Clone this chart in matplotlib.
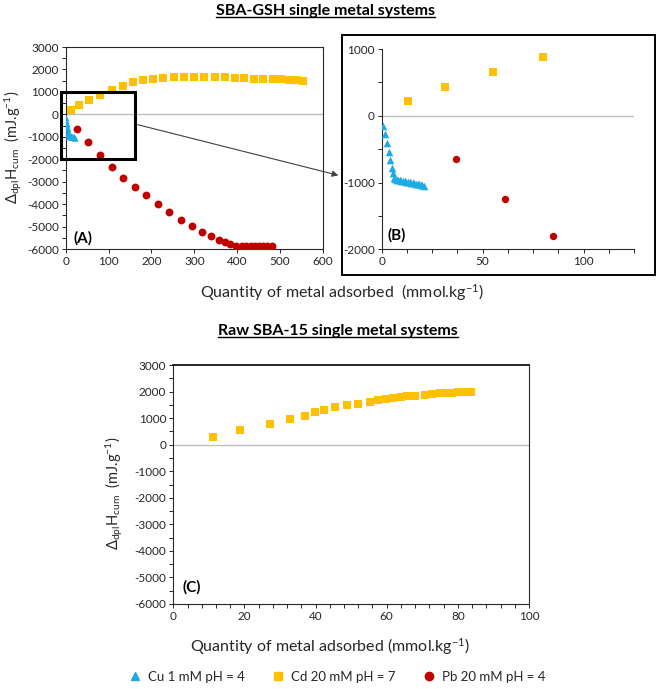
import matplotlib
matplotlib.use("Agg")
import matplotlib.pyplot as plt
from matplotlib.patches import Rectangle, FancyArrowPatch
from matplotlib.lines import Line2D
from matplotlib.ticker import MultipleLocator

# -----------------------------
# data
# -----------------------------
# SBA-GSH, Cu 1 mM pH = 4
cu_x = [0.5, 1.5, 2.5, 3.5, 4.3, 5.1, 5.8, 6.2, 6.8, 7.5, 8.2, 9.0, 9.8, 10.6, 11.4,
        12.2, 13.0, 13.8, 14.6, 15.4, 16.2, 17.0, 17.8, 18.6, 19.4, 20.2, 21.0]
cu_y = [-150, -279, -414, -549, -664, -780, -864, -930, -945, -955, -962, -968, -973,
        -978, -983, -988, -992, -997, -1001, -1006, -1010, -1015, -1020, -1026, -1032,
        -1040, -1050]

# SBA-GSH, Cd 20 mM pH = 7
cd_x = [12, 31, 55, 80, 107, 133, 158, 181, 203, 227, 252, 275, 299, 323, 347, 371,
        394, 416, 439, 461, 483, 503, 520, 539, 553]
cd_y = [210, 434, 658, 882, 1075, 1254, 1420, 1509, 1585, 1630, 1643, 1675, 1657, 1643,
        1643, 1643, 1612, 1612, 1585, 1585, 1554, 1554, 1522, 1522, 1496]

# SBA-GSH, Pb 20 mM pH = 4
pb_x = [27, 53, 80, 107, 134, 161, 188, 215, 242, 268, 295, 318, 338, 357, 372, 384,
        398, 410, 421, 431, 441, 450, 461, 470, 480]
pb_y = [-672, -1254, -1818, -2342, -2821, -3224, -3609, -4012, -4357, -4716, -4984,
        -5222, -5419, -5580, -5687, -5777, -5849, -5855, -5855, -5855, -5855, -5855,
        -5855, -5855, -5855]

# inset (B) as drawn
cd_x_inset = [13, 31.5, 55, 80]
cd_y_inset = [220, 435, 655, 880]
pb_x_inset = [37, 61, 85]
pb_y_inset = [-655, -1250, -1805]

# raw SBA-15, Cd 20 mM pH = 7
raw_cd_x = [11.2, 18.8, 27.3, 32.9, 37.0, 39.9, 42.5, 45.6, 48.8, 52.0, 55.3, 57.5,
            59.9, 61.7, 64.0, 65.6, 68.0, 70.7, 72.8, 75.1, 76.7, 78.3, 80.0, 81.4,
            82.8, 83.6]
raw_cd_y = [302, 567, 769, 958, 1084, 1223, 1311, 1412, 1475, 1538, 1613, 1664, 1714,
            1765, 1790, 1815, 1828, 1866, 1891, 1929, 1941, 1941, 1966, 1979, 1979, 1990]

CU = "#1EAAE2"
CD = "#FFC000"
PB = "#C00000"
W, H = 661, 689

plt.rcParams.update({
    "font.family": ["Lato", "DejaVu Sans"],
    "mathtext.default": "regular",
    "axes.unicode_minus": False,
    "font.size": 8.5,
})

fig = plt.figure(figsize=(W / 100, H / 100), dpi=100)


def box(l, t, r, b):
    # pixel box -> figure fraction rect
    return [l / W, 1 - b / H, (r - l) / W, (b - t) / H]


def style(ax, spines=True):
    for s in ["left", "bottom", "top", "right"]:
        ax.spines[s].set_color("#262626")
        ax.spines[s].set_linewidth(0.8)
    if not spines:
        ax.spines["top"].set_visible(False)
        ax.spines["right"].set_visible(False)
    ax.tick_params(which="both", direction="out", length=3, width=0.7,
                   color="#262626", labelsize=8.5, labelcolor="#262626", pad=2)
    ax.axhline(0, color="#BFBFBF", lw=1.0, zorder=1)


# ========== (A) SBA-GSH ==========
axA = fig.add_axes(box(65.7, 47, 323, 249))
style(axA)
axA.set_xlim(0, 600)
axA.set_ylim(-6000, 3000)
axA.xaxis.set_major_locator(MultipleLocator(100))
axA.yaxis.set_major_locator(MultipleLocator(1000))
axA.yaxis.set_minor_locator(MultipleLocator(500))
axA.scatter(cd_x, cd_y, marker="s", s=28, color=CD, lw=0, zorder=3)
axA.scatter(pb_x, pb_y, marker="o", s=32, color=PB, lw=0, zorder=3)
axA.scatter(cu_x, cu_y, marker="^", s=20, color=CU, lw=0, zorder=3)
axA.add_patch(Rectangle((-11, -2000), 172, 3000, fill=False, ec="black", lw=2.2,
                        clip_on=False, zorder=4))
axA.text(0.068, 0.055, "(A)", transform=axA.transAxes, fontsize=11,
         fontweight="bold", va="center", ha="center")

# ========== (B) zoom ==========
fig.add_artist(Rectangle((341.7 / W, 1 - 275 / H), (655 - 341.7) / W, (275 - 35) / H,
                         transform=fig.transFigure, fill=False, ec="black", lw=1.4))
axB = fig.add_axes(box(381.7, 49, 634, 249.3))
style(axB, spines=False)
axB.set_xlim(0, 125)
axB.set_ylim(-2000, 1000)
axB.xaxis.set_major_locator(MultipleLocator(50))
axB.xaxis.set_minor_locator(MultipleLocator(12.5))
axB.yaxis.set_major_locator(MultipleLocator(1000))
axB.yaxis.set_minor_locator(MultipleLocator(500))
axB.scatter(cd_x_inset, cd_y_inset, marker="s", s=28, color=CD, lw=0, zorder=3)
axB.scatter(pb_x_inset, pb_y_inset, marker="o", s=28, color=PB, lw=0, zorder=3)
axB.scatter(cu_x, cu_y, marker="^", s=30, color=CU, lw=0, zorder=3)
axB.text(0.06, 0.07, "(B)", transform=axB.transAxes, fontsize=11,
         fontweight="bold", va="center", ha="center")

fig.add_artist(FancyArrowPatch((135 / W, 1 - 124 / H), (341 / W, 1 - 176 / H),
                               transform=fig.transFigure, arrowstyle="-|>",
                               mutation_scale=9, color="#404040", lw=0.8))

# ========== (C) raw SBA-15 ==========
axC = fig.add_axes(box(173.3, 365, 529, 604))
style(axC)
axC.spines["top"].set_linewidth(1.4)
axC.set_xlim(0, 100)
axC.set_ylim(-6000, 3000)
axC.xaxis.set_major_locator(MultipleLocator(20))
axC.xaxis.set_minor_locator(MultipleLocator(4))
axC.yaxis.set_major_locator(MultipleLocator(1000))
axC.yaxis.set_minor_locator(MultipleLocator(500))
axC.scatter(raw_cd_x, raw_cd_y, marker="s", s=28, color=CD, lw=0, zorder=3)
axC.text(0.052, 0.07, "(C)", transform=axC.transAxes, fontsize=11,
         fontweight="bold", va="center", ha="center")

# ---------- labels ----------
ylab = r"$\Delta_{dpl}$H$_{cum}$  (mJ.g$^{-1}$)"
xlab = r"Quantity of metal adsorbed  (mmol.kg$^{-1}$)"
fig.text(13.5 / W, 1 - 147.5 / H, ylab, rotation=90, ha="center", va="center",
         fontsize=10.5, color="#262626")
fig.text(114.4 / W, 1 - 493 / H, ylab, rotation=90, ha="center", va="center",
         fontsize=10.5, color="#262626")
fig.text(342 / W, 1 - 293 / H, xlab, ha="center", va="center", fontsize=11.5,
         color="#262626")
fig.text(330 / W, 1 - 647 / H, xlab.replace("  (", " ("), ha="center", va="center",
         fontsize=11.5, color="#262626")

titles = [
    fig.text(325 / W, 1 - 11 / H, "SBA-GSH single metal systems", ha="center",
             va="center", fontsize=11.5, fontweight="bold"),
    fig.text(338 / W, 1 - 331 / H, "Raw SBA-15 single metal systems", ha="center",
             va="center", fontsize=11.5, fontweight="bold"),
]

handles = [
    Line2D([], [], ls="none", marker="^", ms=6, color=CU, label="Cu 1 mM pH = 4"),
    Line2D([], [], ls="none", marker="s", ms=6, color=CD, label="Cd 20 mM pH = 7"),
    Line2D([], [], ls="none", marker="o", ms=6, color=PB, label="Pb 20 mM pH = 4"),
]
fig.legend(handles=handles, loc="center", bbox_to_anchor=(337 / W, 1 - 677 / H),
           ncol=3, frameon=False, fontsize=9.5, handlelength=1, handletextpad=0.5,
           columnspacing=2.0, labelcolor="#262626")

# underline the titles
fig.canvas.draw()
r = fig.canvas.get_renderer()
for t in titles:
    bb = t.get_window_extent(r).transformed(fig.transFigure.inverted())
    fig.add_artist(Line2D([bb.x0, bb.x1], [bb.y0 + 0.001, bb.y0 + 0.001],
                          transform=fig.transFigure, color="black", lw=1.0))

fig.savefig("out.png", dpi=100)
plt.close(fig)
